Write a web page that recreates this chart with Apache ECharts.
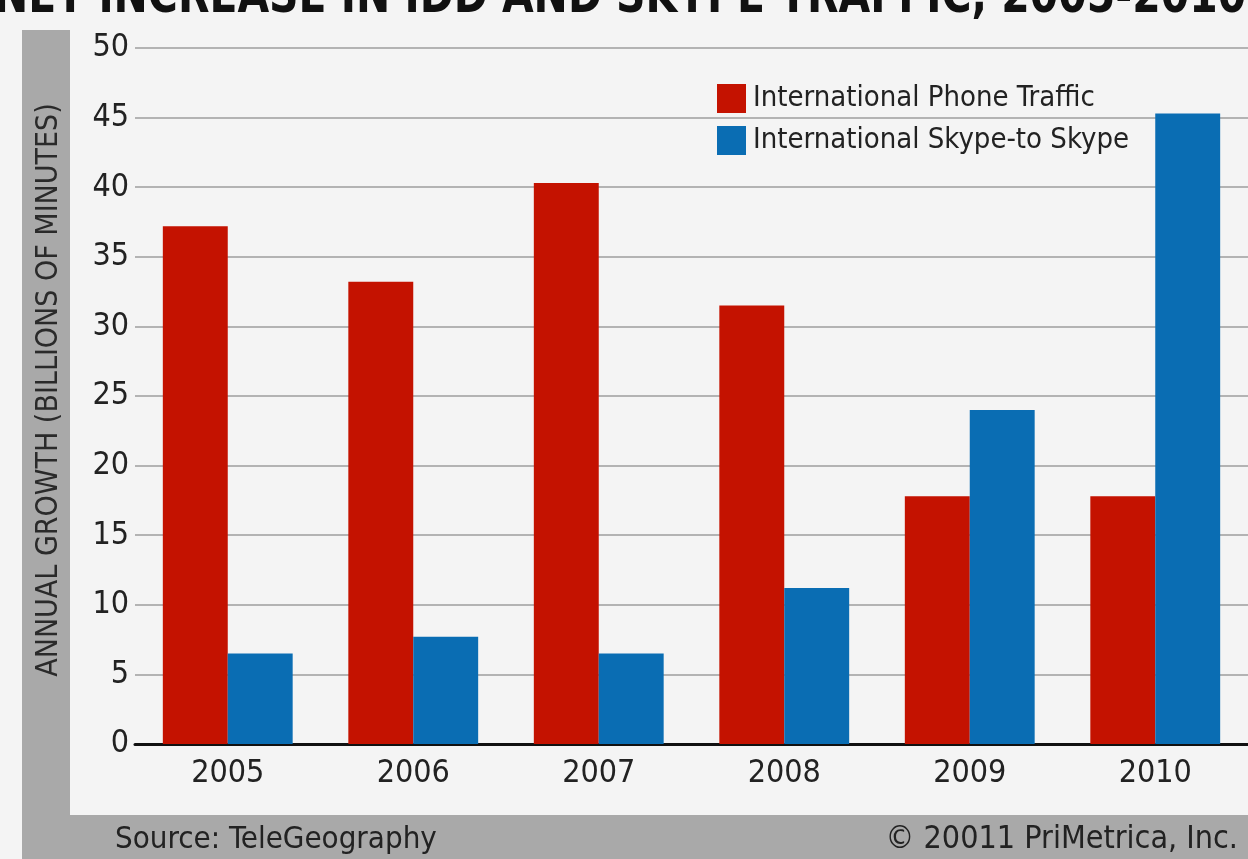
<!DOCTYPE html>
<html><head><meta charset="utf-8">
<script src="https://cdn.jsdelivr.net/npm/echarts@6/dist/echarts.min.js"></script>
<style>html,body{margin:0;padding:0;background:#f4f4f4;}#c{width:1248px;height:859px;}</style>
</head><body><div id="c"></div>
<script>
const years = ['2005','2006','2007','2008','2009','2010'];
const phoneTraffic = [37.2, 33.2, 40.3, 31.5, 17.8, 17.8];
const skypeTraffic = [6.5, 7.7, 6.5, 11.2, 24.0, 45.3];
const seriesNames = ['International Phone Traffic', 'International Skype-to Skype'];
const FONT = '"Liberation Sans Narrow","DejaVu Sans Condensed","Liberation Sans",sans-serif';

const chart = echarts.init(document.getElementById('c'));
chart.setOption({
  backgroundColor: '#f4f4f4',
  animation: false,
  graphic: [
    {type:'rect', z:-10, shape:{x:22,y:30,width:48,height:829}, style:{fill:'#a9a9a9'}},
    {type:'rect', z:-10, shape:{x:22,y:815,width:1226,height:44}, style:{fill:'#a9a9a9'}},
    {type:'text', x:-6, y:-28, scaleX:0.875, style:{text:'NET INCREASE IN IDD AND SKYPE TRAFFIC, 2005-2010', font:'bold 52px '+FONT, fill:'#111'}},
    {type:'text', x:49, y:390, rotation:Math.PI/2, style:{text:'ANNUAL GROWTH (BILLIONS OF MINUTES)', font:'30px '+FONT, fill:'#2a2a2a', align:'center', verticalAlign:'middle'}},
    {type:'text', x:115, y:840, style:{text:'Source: TeleGeography', font:'31px '+FONT, fill:'#222', verticalAlign:'middle'}},
    {type:'text', x:1238, y:840, style:{text:'© 20011 PriMetrica, Inc.', font:'32px '+FONT, fill:'#222', align:'right', verticalAlign:'middle'}}
  ],
  legend: {
    left: 712, top: 79, orient: 'vertical', itemWidth: 29, itemHeight: 29, itemGap: 13,
    icon: 'rect',
    textStyle: {fontFamily: FONT, fontSize: 29, color: '#222', padding:[0,0,0,2]},
    data: seriesNames
  },
  grid: {left: 135, right: 0, top: 48, bottom: 859-744},
  xAxis: {
    type: 'category', data: years,
    axisLine: {show:true, lineStyle:{color:'#111', width:3}},
    axisTick: {show:false},
    axisLabel: {fontFamily: FONT, fontSize: 32, color: '#222', margin: 14}
  },
  yAxis: {
    type: 'value', min: 0, max: 50, interval: 5,
    axisLine: {show:false}, axisTick: {show:false},
    axisLabel: {fontFamily: FONT, fontSize: 32, color: '#222', margin: 6},
    splitLine: {lineStyle:{color:'#b3b3b3', width:2}}
  },
  series: [
    {name: seriesNames[0], type:'bar', data: phoneTraffic, itemStyle:{color:'#c41200'}, barGap:'0%', barCategoryGap:'30%'},
    {name: seriesNames[1], type:'bar', data: skypeTraffic, itemStyle:{color:'#0a6db3'}}
  ]
});
</script></body></html>
